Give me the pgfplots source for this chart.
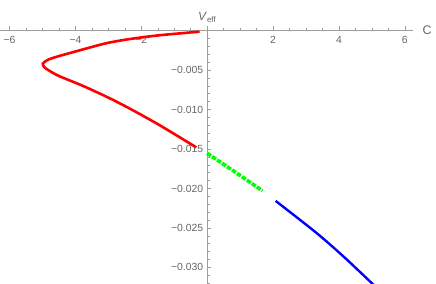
\documentclass[border=0pt]{standalone}
\usepackage{pgfplots}
\pgfplotsset{compat=1.18}
\usepackage{fontspec}
\setmainfont{Liberation Sans}
\definecolor{axgray}{gray}{0.62}
\definecolor{labgray}{gray}{0.4}
\definecolor{mgreen}{rgb}{0,1,0}
\begin{document}
\begin{tikzpicture}
\begin{axis}[
  scale only axis, width=413bp, height=258bp,
  xmin=-6.29, xmax=6.25, ymin=-0.0321, ymax=0.00057,
  axis lines=middle,
  axis line style={axgray, line width=0.6bp, -},
  every inner x axis line/.append style={-},
  every inner y axis line/.append style={-},
  tick align=inside, major tick length=4.3bp, minor tick length=2.5bp,
  every tick/.style={axgray, line width=0.5bp},
  xtick={-6,-4,-2,2,4,6}, xticklabels={−6,−4,−2,2,4,6},
  minor xtick={-6,-5.5,-5,-4.5,-4,-3.5,-3,-2.5,-2,-1.5,-1,-0.5,0.5,1,1.5,2,2.5,3,3.5,4,4.5,5,5.5,6},
  ytick={-0.030,-0.025,-0.020,-0.015,-0.010,-0.005},
  yticklabels={−0.030,−0.025,−0.020,−0.015,−0.010,−0.005},
  minor ytick={-0.032,-0.031,-0.029,-0.028,-0.027,-0.026,-0.024,-0.023,-0.022,-0.021,-0.019,-0.018,-0.017,-0.016,-0.014,-0.013,-0.012,-0.011,-0.009,-0.008,-0.007,-0.006,-0.004,-0.003,-0.002,-0.001},
  scaled y ticks=false,
  tick label style={font=\fontsize{10.4}{12}\selectfont, text=labgray},
  xticklabel style={yshift=-2bp},
  yticklabel style={xshift=-0.5bp},
  xlabel={C}, ylabel={\textit{V}\textsubscript{eff}},
  every axis x label/.style={at={(current axis.right of origin)}, anchor=west, xshift=6bp, font=\fontsize{12.5}{14}\selectfont, text=labgray},
  every axis y label/.style={at={(current axis.above origin)}, anchor=south, yshift=0bp, font=\fontsize{12}{14}\selectfont, text=labgray},
  clip=true,
]
\addplot[red, line width=2.6bp, smooth] coordinates {
 (-0.23,-0.00015) (-1.44,-0.0006) (-2.38,-0.0011) (-3.05,-0.0016) (-3.6,-0.0022)
 (-4.12,-0.0028) (-4.55,-0.0033) (-4.83,-0.0037) (-4.99,-0.0042) (-4.93,-0.0047)
 (-4.75,-0.0052) (-4.48,-0.0058) (-3.78,-0.0070) (-3.0,-0.0085) (-2.3,-0.0100)
 (-1.44,-0.0120) (-0.33,-0.0148)
};
\addplot[mgreen, line width=3.6bp, dash pattern=on 4.5bp off 1.5bp, smooth] coordinates {
 (0,-0.01555) (0.84,-0.0179) (1.68,-0.0203)
};
\addplot[blue, line width=2.4bp, smooth] coordinates {
 (2.08,-0.02158) (3.33,-0.02567) (4.2,-0.02885) (5.2,-0.0328)
};
\end{axis}
\pgfresetboundingbox
\path[use as bounding box] (current axis.south west) rectangle ++(436bp,284bp);
\end{tikzpicture}
\end{document}
